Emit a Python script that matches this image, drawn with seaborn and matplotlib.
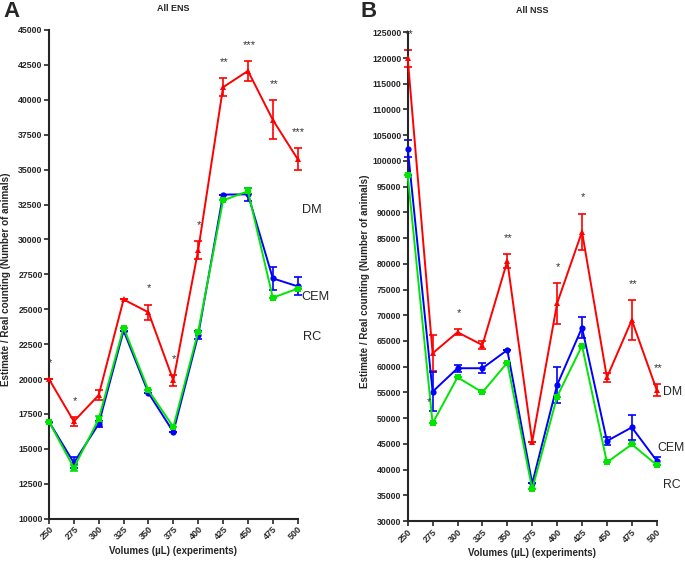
#!/usr/bin/env python3
"""Recreate the ENS / NSS volume estimation chart (panels A and B)."""

import numpy as np
import pandas as pd
import matplotlib
matplotlib.use("Agg")
import matplotlib.pyplot as plt
import seaborn as sns

# --- Data ---
volumes = [250, 275, 300, 325, 350, 375, 400, 425, 450, 475, 500]
groups = ["DM", "CEM", "RC"]

# Panel A: All ENS
ens_dm = [20000, 16970, 18850, 25700, 24780, 19900, 29250, 40900, 42070, 38560, 35750]
ens_dm_err = [0, 330, 350, 0, 550, 400, 650, 650, 700, 1400, 800]
ens_cem = [16950, 14000, 16790, 23470, 19000, 16210, 23160, 33210, 33230, 27210, 26640]
ens_cem_err = [0, 400, 200, 0, 0, 0, 300, 0, 450, 850, 650]
ens_rc = [16950, 13640, 17140, 23690, 19190, 16570, 23400, 32800, 33450, 25830, 26480]
ens_rc_err = [0, 200, 200, 0, 0, 0, 0, 0, 200, 0, 0]
ens_stars = ["*", "*", "", "", "*", "*", "*", "**", "***", "**", "***"]

# Panel B: All NSS
nss_dm = [119950, 62600, 66700, 64200, 80540, 45400, 72320, 86240, 57900, 69070, 55470]
nss_dm_err = [1600, 3500, 600, 700, 1300, 0, 4000, 3500, 800, 3800, 1200]
nss_cem = [102400, 55140, 59700, 59700, 63240, 37300, 56440, 67580, 45550, 48200, 41720]
nss_cem_err = [1600, 3800, 700, 1000, 0, 0, 3500, 2000, 700, 2400, 800]
nss_rc = [97200, 49000, 57930, 55020, 60780, 36220, 54170, 64080, 41400, 44900, 40900]
nss_rc_err = [0, 0, 0, 0, 0, 0, 0, 0, 0, 0, 0]
nss_stars = ["**", "", "*", "", "**", "", "*", "*", "", "**", "**"]

# --- Style ---
sns.set_style("ticks")
plt.rcParams["font.family"] = ["Liberation Sans", "DejaVu Sans"]

colors = {"DM": "#ff0000", "CEM": "#0000ff", "RC": "#00e600"}
markers = {"DM": "^", "CEM": "o", "RC": "s"}
msizes = {"DM": 4, "CEM": 4.5, "RC": 5}


def long_frame(dm, cem, rc):
    rows = []
    for name, vals in zip(groups, [dm, cem, rc]):
        for v, y in zip(volumes, vals):
            rows.append({"volume": v, "value": y, "group": name})
    return pd.DataFrame(rows)


def draw_panel(ax, series, errs, stars, ylim, ystep, title):
    df = long_frame(*series)
    for name in groups:
        sub = df[df["group"] == name]
        sns.lineplot(data=sub, x="volume", y="value", color=colors[name],
                     marker=markers[name], markersize=msizes[name],
                     markeredgewidth=0, linewidth=1.4, ax=ax, clip_on=False,
                     legend=False, zorder=3)
    for name, vals, err in zip(groups, series, errs):
        ax.errorbar(volumes, vals, yerr=err, fmt="none", ecolor=colors[name],
                    elinewidth=1.2, capsize=3, capthick=1.2, clip_on=False,
                    zorder=2)

    # significance stars above DM error bars
    span = ylim[1] - ylim[0]
    for v, y, e, s in zip(volumes, series[0], errs[0], stars):
        if s:
            ax.text(v + 1, y + e + 0.033 * span, s, ha="center", va="center",
                    fontsize=8, color="#333333")

    ax.set_xlim(250, 500)
    ax.set_ylim(*ylim)
    ax.set_xticks(volumes)
    ax.set_yticks(np.arange(ylim[0], ylim[1] + 1, ystep))
    ax.tick_params(axis="x", labelrotation=45, labelsize=6.5, length=3.5,
                   width=1.2, pad=1)
    ax.tick_params(axis="y", labelsize=6.3, length=3.5, width=1.2, pad=1)
    for lab in ax.get_xticklabels():
        lab.set_fontweight("bold")
        lab.set_ha("right")
        lab.set_rotation_mode("anchor")
    for lab in ax.get_yticklabels():
        lab.set_fontweight("bold")
    for sp in ["left", "bottom"]:
        ax.spines[sp].set_linewidth(1.5)
    sns.despine(ax=ax)

    ax.set_xlabel("Volumes (\u00b5L) (experiments)", fontsize=7,
                  fontweight="bold", labelpad=3)
    ax.set_ylabel("Estimate / Real counting (Number of animals)", fontsize=7.1,
                  fontweight="bold")
    ax.yaxis.set_label_coords(-0.152, 0.49)
    ax.set_title(title, fontsize=6.5, fontweight="bold", pad=14)


fig = plt.figure(figsize=(6.85, 5.66), dpi=100)
ax_a = fig.add_axes([0.0715, 0.0836, 0.3631, 0.8634])
ax_b = fig.add_axes([0.5952, 0.0795, 0.3635, 0.8634])

draw_panel(ax_a, [ens_dm, ens_cem, ens_rc], [ens_dm_err, ens_cem_err, ens_rc_err],
           ens_stars, (10000, 45000), 2500, "All ENS")
draw_panel(ax_b, [nss_dm, nss_cem, nss_rc], [nss_dm_err, nss_cem_err, nss_rc_err],
           nss_stars, (30000, 125000), 5000, "All NSS")

# panel letters
fig.text(3 / 685, 1 - 1 / 566, "A", fontsize=16, fontweight="bold", ha="left", va="top")
fig.text(361 / 685, 1 - 1 / 566, "B", fontsize=16, fontweight="bold", ha="left", va="top")

# odd star beside CEM error bar at 275 in panel B
ax_b.text(271, 53200, "*", ha="center", va="center", fontsize=8, color="#333333")

# group labels
for ax, size, pos in [(ax_a, 9.2, [(504, 32100), (504, 25900), (505, 23000)]),
                      (ax_b, 8.8, [(506, 55000), (501, 44100), (506, 37000)])]:
    for name, (x, y) in zip(groups, pos):
        ax.text(x, y, name, fontsize=size, ha="left", va="center", clip_on=False)

fig.savefig("out.png", dpi=100)
